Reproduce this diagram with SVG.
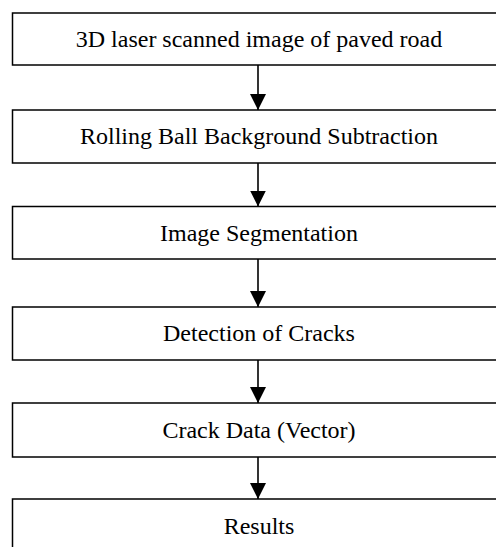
<svg xmlns="http://www.w3.org/2000/svg" width="496" height="547" viewBox="0 0 496 547">
<style>
.box{fill:#fff;stroke:#000;stroke-width:1.5}
.lbl{font-family:"Liberation Serif","Times New Roman",serif;font-size:24px;fill:#000;text-anchor:middle}
.conn{stroke:#000;stroke-width:1.6;fill:none}
</style>
<defs>
<marker id="ah" markerUnits="userSpaceOnUse" markerWidth="16" markerHeight="17" refX="16" refY="8" orient="auto">
<path d="M0,0 L16,8 L0,16 Z" fill="#000"/>
</marker>
</defs>
<rect width="496" height="547" fill="#fff"/>
<g id="connectors">
<line class="conn" x1="258" y1="65" x2="258" y2="110" marker-end="url(#ah)"/>
<line class="conn" x1="258" y1="163" x2="258" y2="206.5" marker-end="url(#ah)"/>
<line class="conn" x1="258" y1="259" x2="258" y2="307" marker-end="url(#ah)"/>
<line class="conn" x1="258" y1="360" x2="258" y2="403" marker-end="url(#ah)"/>
<line class="conn" x1="258" y1="457" x2="258" y2="499" marker-end="url(#ah)"/>
</g>
<g id="n1"><rect class="box" x="12.5" y="13" width="500" height="52"/><text class="lbl" x="259" y="46.5">3D laser scanned image of paved road</text></g>
<g id="n2"><rect class="box" x="12.5" y="110" width="500" height="53"/><text class="lbl" x="259" y="144">Rolling Ball Background Subtraction</text></g>
<g id="n3"><rect class="box" x="12.5" y="206.5" width="500" height="52.5"/><text class="lbl" x="259" y="240.5">Image Segmentation</text></g>
<g id="n4"><rect class="box" x="12.5" y="307" width="500" height="53"/><text class="lbl" x="259" y="341">Detection of Cracks</text></g>
<g id="n5"><rect class="box" x="12.5" y="403" width="500" height="54"/><text class="lbl" x="259" y="437.5">Crack Data (Vector)</text></g>
<g id="n6"><rect class="box" x="12.5" y="499" width="500" height="60"/><text class="lbl" x="259" y="533.5">Results</text></g>
</svg>
